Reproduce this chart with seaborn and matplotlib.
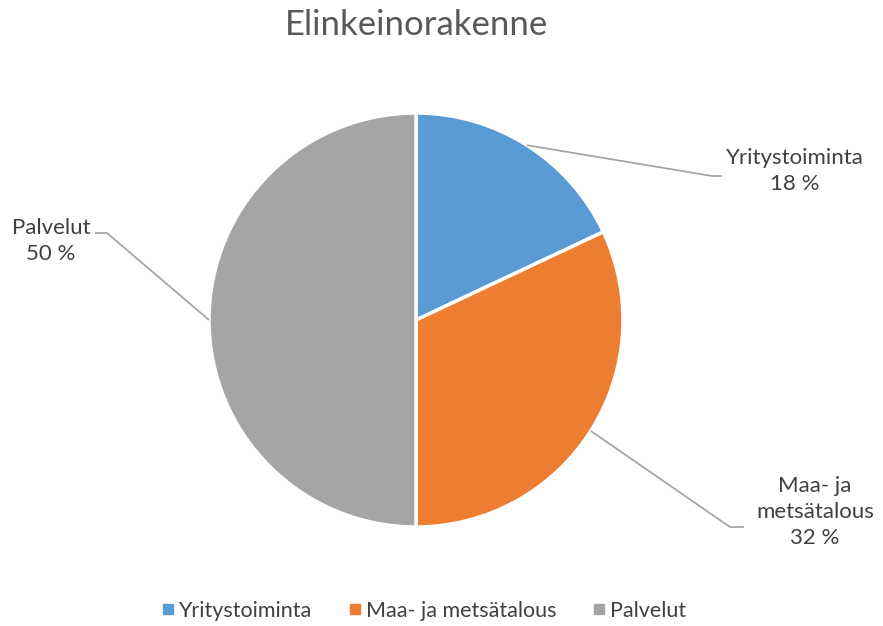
import numpy as np
import matplotlib
matplotlib.use("Agg")
import matplotlib.pyplot as plt
import seaborn as sns
from matplotlib.lines import Line2D

categories = ["Yritystoiminta", "Maa- ja metsätalous", "Palvelut"]
label_texts = ["Yritystoiminta", "Maa- ja\nmetsätalous", "Palvelut"]
values = [18, 32, 50]
colors = ["#5B9BD5", "#ED7D31", "#A5A5A5"]
title = "Elinkeinorakenne"

sns.set_theme(style="white")
plt.rcParams['font.family'] = ['Lato', 'DejaVu Sans']

W, H = 883, 626
fig = plt.figure(figsize=(W / 100, H / 100), dpi=100)
ax = fig.add_axes([0, 0, 1, 1])

cx, cy, r = 416, H - 320, 207
wedges, _ = ax.pie(values, colors=colors, startangle=90, counterclock=False,
                   center=(cx, cy), radius=r, frame=True,
                   wedgeprops=dict(edgecolor="white", linewidth=2.5))
ax.set_xlim(0, W)
ax.set_ylim(0, H)
ax.set_aspect("equal")
ax.axis("off")

txtc = "#404040"
linec = "#A6A6A6"
layout = [
    dict(elbow=(712, H - 176), end=(722, H - 176), text=(795, H - 171)),
    dict(elbow=(730, H - 527), end=(744, H - 527), text=(815, H - 512)),
    dict(elbow=(107, H - 233), end=(95, H - 233), text=(51, H - 241)),
]
cum = np.cumsum([0] + values[:-1])
for i, (v, c0) in enumerate(zip(values, cum)):
    mid = (c0 + v / 2) / sum(values) * 360
    ang = np.deg2rad(90 - mid)
    sx, sy = cx + r * np.cos(ang), cy + r * np.sin(ang)
    L = layout[i]
    ax.plot([sx, L["elbow"][0], L["end"][0]], [sy, L["elbow"][1], L["end"][1]],
            color=linec, lw=1.3, solid_capstyle="butt")
    ax.text(L["text"][0], L["text"][1], f"{label_texts[i]}\n{v} %",
            ha="center", va="center", fontsize=16, color=txtc,
            linespacing=1.35)

ax.text(417, H - 25, title, ha="center", va="center", fontsize=25, color="#595959")

handles = [Line2D([0], [0], marker="s", linestyle="", markersize=7,
                  markerfacecolor=c, markeredgecolor=c) for c in colors]
leg = fig.legend(handles, categories, loc="center", bbox_to_anchor=(422 / W, 1 - 611 / H),
                 ncol=3, frameon=False, fontsize=15.5, handletextpad=0.05,
                 columnspacing=1.55, handlelength=0.9)
for t in leg.get_texts():
    t.set_color(txtc)

fig.savefig("out.png", dpi=100, facecolor="white")
